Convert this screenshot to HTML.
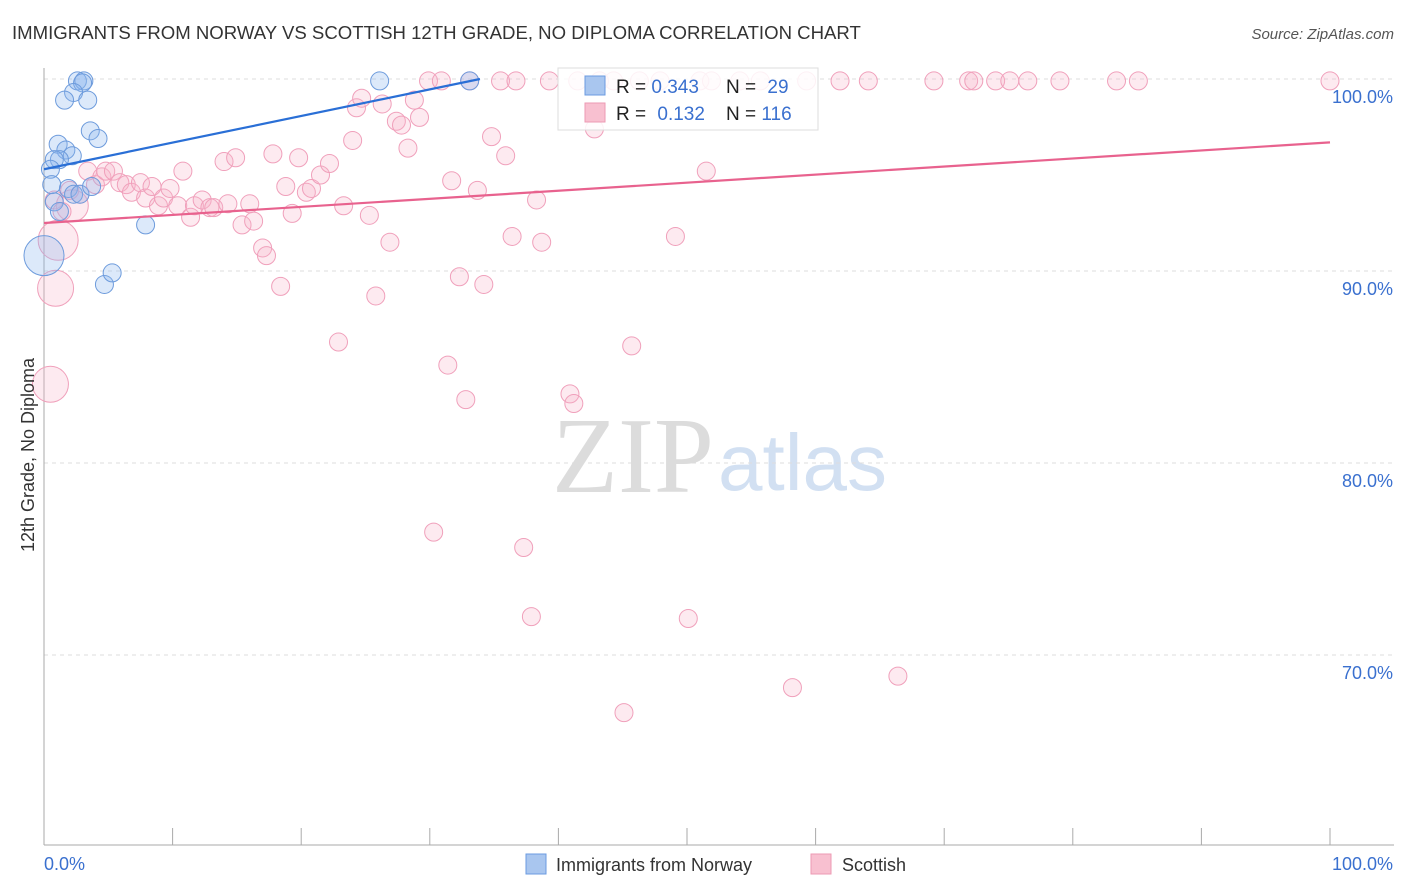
<!DOCTYPE html>
<html><head><meta charset="utf-8"><style>
body{margin:0;background:#fff;font-family:"Liberation Sans",sans-serif;}
#wrap{position:relative;width:1406px;height:892px;overflow:hidden;}
</style></head><body>
<div id="wrap">
<svg id="chart" width="1406" height="892" xmlns="http://www.w3.org/2000/svg">
<text x="12" y="39" font-size="18.6" fill="#333">IMMIGRANTS FROM NORWAY VS SCOTTISH 12TH GRADE, NO DIPLOMA CORRELATION CHART</text>
<text x="1394" y="39" font-size="15" fill="#555" text-anchor="end" font-style="italic">Source: ZipAtlas.com</text>
<text x="714" y="492" font-size="108" fill="#dcdcdc" font-family="Liberation Serif,serif" text-anchor="end">ZIP</text>
<text x="718" y="490" font-size="80" fill="#d2e0f2">atlas</text>
<g id="grid"></g>
<g id="axes"></g>
<g id="pts"></g>
<g id="lines"></g>
<text transform="translate(34,455) rotate(-90)" font-size="18" fill="#333" text-anchor="middle">12th Grade, No Diploma</text>
<g>
<rect x="558" y="68" width="260" height="62" fill="#fff" fill-opacity="0.85" stroke="#ddd"/>
<rect x="585" y="76" width="20" height="19" fill="#a9c6ef" stroke="#6b9be0"/>
<rect x="585" y="103" width="20" height="19" fill="#f8c0d0" stroke="#ec9ab3"/>
<text x="616" y="93" font-size="19" fill="#222">R = <tspan fill="#3a70cf">0.343</tspan></text>
<text x="726" y="93" font-size="19" fill="#222">N = <tspan fill="#3a70cf" dx="6">29</tspan></text>
<text x="616" y="120" font-size="19" fill="#222">R = <tspan fill="#3a70cf" dx="6">0.132</tspan></text>
<text x="726" y="120" font-size="19" fill="#222">N = <tspan fill="#3a70cf">116</tspan></text>
</g>
<g>
<rect x="526" y="854" width="20" height="20" fill="#a9c6ef" stroke="#6b9be0"/>
<text x="556" y="871" font-size="18" fill="#333">Immigrants from Norway</text>
<rect x="811" y="854" width="20" height="20" fill="#f8c0d0" stroke="#ec9ab3"/>
<text x="842" y="871" font-size="18" fill="#333">Scottish</text>
</g>
</svg>
</div>
<script>
const yTicks=[100,90,80,70];
const yTickLabels=["100.0%","90.0%","80.0%","70.0%"];
const xTickCount=10;
const xTickLabels=["0.0%","100.0%"];
const blueX=[2.6,3.1,3.0,2.3,1.6,3.4,3.6,4.2,1.1,1.7,2.2,1.2,0.8,0.5,0.6,0.8,1.9,2.3,1.2,2.8,3.7,7.9,4.7,5.3,26.1,33.1];
const blueY=[99.9,99.9,99.8,99.3,98.9,98.9,97.3,96.9,96.6,96.3,96.0,95.8,95.8,95.3,94.5,93.6,94.3,94.0,93.1,94.0,94.4,92.4,89.3,89.9,99.9,99.9];
const blueBigX=[0];const blueBigY=[90.8];
const pinkX=[0.8,2.0,1.4,2.8,3.4,4.0,4.5,4.8,5.4,5.9,6.4,6.8,7.5,7.9,8.4,8.9,9.3,9.8,10.4,10.8,11.4,11.7,12.3,12.9,13.2,14.0,14.3,14.9,15.4,16.0,16.3,17.0,17.3,17.8,18.4,18.8,19.3,19.8,20.4,20.8,21.5,22.2,22.9,23.3,24.0,24.3,24.7,25.3,25.8,26.3,26.9,27.4,27.8,28.3,28.8,29.2,29.9,30.3,30.9,31.4,31.7,32.3,32.8,33.1,33.7,34.2,34.8,35.5,35.9,36.4,36.7,37.3,37.9,38.3,38.7,39.3,40.9,41.2,41.5,42.8,43.2,44.3,45.1,45.7,46.3,47.9,49.1,50.1,51.0,51.5,51.9,54.1,55.7,58.2,59.3,61.9,64.1,66.4,69.2,71.9,72.3,74.0,75.1,76.5,79.0,83.4,85.1,100];
const pinkY=[93.7,94.2,93.1,94.0,95.2,94.5,94.9,95.2,95.2,94.6,94.5,94.1,94.6,93.8,94.4,93.4,93.8,94.3,93.4,95.2,92.8,93.4,93.7,93.3,93.3,95.7,93.5,95.9,92.4,93.5,92.6,91.2,90.8,96.1,89.2,94.4,93.0,95.9,94.1,94.3,95.0,95.6,86.3,93.4,96.8,98.5,99.0,92.9,88.7,98.7,91.5,97.8,97.6,96.4,98.9,98.0,99.9,76.4,99.9,85.1,94.7,89.7,83.3,99.9,94.2,89.3,97.0,99.9,96.0,91.8,99.9,75.6,72.0,93.7,91.5,99.9,83.6,83.1,99.9,97.4,99.9,99.9,67.0,86.1,99.9,99.9,91.8,71.9,99.9,95.2,99.9,99.9,99.9,68.3,99.9,99.9,99.9,68.9,99.9,99.9,99.9,99.9,99.9,99.9,99.9,99.9,99.9,99.9];
const pinkBigX=[1.1,0.9,0.5,2.2];const pinkBigY=[91.6,89.1,84.1,93.4];const pinkBigR=[20,18,18,16];
const blueLine=[[0,95.3],[33.9,100]];
const pinkLine=[[0,92.5],[100,96.7]];
const NS="http://www.w3.org/2000/svg";
const X0=44,X1=1330,Y100=79,PXPER=19.2;
const sx=v=>X0+(X1-X0)*v/100;
const sy=v=>Y100+(100-v)*PXPER;
function mk(tag,at,parent){const e=document.createElementNS(NS,tag);for(const k in at)e.setAttribute(k,at[k]);parent.appendChild(e);return e;}
const grid=document.getElementById('grid'),axes=document.getElementById('axes'),pts=document.getElementById('pts'),lines=document.getElementById('lines');
yTicks.forEach((t,i)=>{
 const l=mk('line',{x1:X0,x2:1394,y1:sy(t),y2:sy(t),stroke:'#ddd','stroke-dasharray':'4,4'},grid);
 
 
 const tx=mk('text',{x:1393,y:sy(t)+24,'font-size':18,fill:'#3a70cf','text-anchor':'end'},axes);
 tx.textContent=yTickLabels[i];
 
 
});
const ya=mk('line',{x1:X0,x2:X0,y1:68,y2:845,stroke:'#aaa'},axes);


const xa=mk('line',{x1:X0,x2:1394,y1:845,y2:845,stroke:'#aaa'},axes);


for(let i=0;i<=xTickCount;i++){
 const tk=mk('line',{x1:sx(i*10),x2:sx(i*10),y1:828,y2:845,stroke:'#aaa'},axes);
 
 
}
const xl0=mk('text',{x:44,y:870,'font-size':18,fill:'#3a70cf'},axes);xl0.textContent=xTickLabels[0];


const xl1=mk('text',{x:1393,y:870,'font-size':18,fill:'#3a70cf','text-anchor':'end'},axes);xl1.textContent=xTickLabels[1];


function dot(x,y,r,blue){
 const c=mk('circle',{cx:sx(x),cy:sy(y),r:r,fill:blue?'rgba(140,182,238,0.3)':'rgba(247,178,200,0.28)',stroke:blue?'#6d9bdc':'#f0a0bb','stroke-width':1},pts);
 
 
}
pinkBigX.forEach((x,i)=>dot(x,pinkBigY[i],pinkBigR[i],false));
blueBigX.forEach((x,i)=>dot(x,blueBigY[i],20,true));
pinkX.forEach((x,i)=>dot(x,pinkY[i],9,false));
blueX.forEach((x,i)=>dot(x,blueY[i],9,true));
const bl=mk('line',{x1:sx(blueLine[0][0]),y1:sy(blueLine[0][1]),x2:sx(blueLine[1][0]),y2:sy(blueLine[1][1]),stroke:'#2a6fd6','stroke-width':2.2},lines);


const pl=mk('line',{x1:sx(pinkLine[0][0]),y1:sy(pinkLine[0][1]),x2:sx(pinkLine[1][0]),y2:sy(pinkLine[1][1]),stroke:'#e8628e','stroke-width':2.2},lines);


</script>
</body></html>
